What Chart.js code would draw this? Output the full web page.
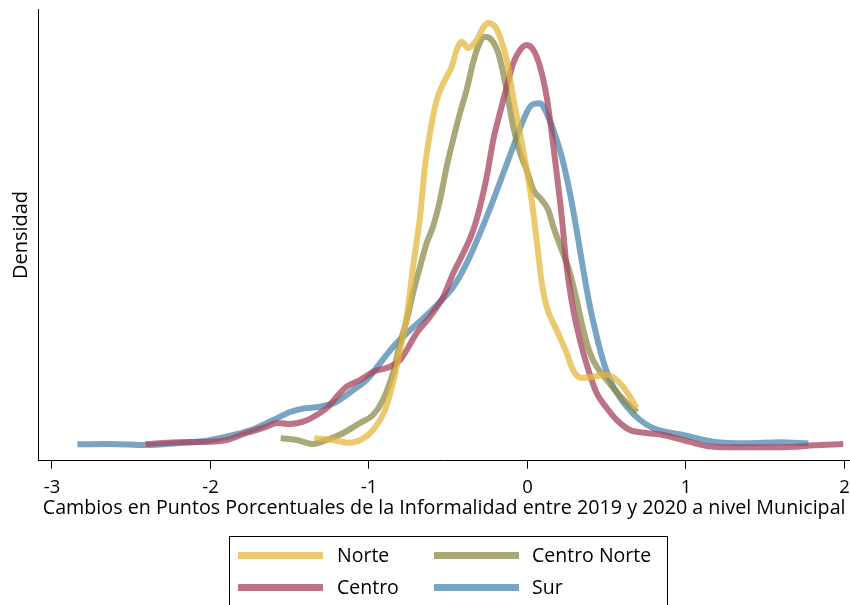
<!DOCTYPE html>
<html>
<head>
<meta charset="utf-8">
<script src="https://cdn.jsdelivr.net/npm/chart.js@4.4.1/dist/chart.umd.min.js"></script>
<style>
  html, body { margin: 0; padding: 0; background: #fff; }
  #wrap { width: 850px; height: 605px; }
</style>
</head>
<body>
<div id="wrap"><canvas id="densityChart" width="850" height="605"></canvas></div>
<script>
// Kernel density curves (y in arbitrary density units)
const xTicks = [-3, -2, -1, 0, 1, 2];

const norteX = [-1.345, -1.227, -1.132, -1.046, -0.975, -0.899, -0.849, -0.804, -0.762, -0.722, -0.678, -0.647, -0.615, -0.573, -0.521, -0.478, -0.447, -0.415, -0.375, -0.321, -0.281, -0.249, -0.205, -0.174, -0.131, -0.091, -0.047, -0.005, 0.026, 0.058, 0.090, 0.121, 0.184, 0.247, 0.287, 0.342, 0.413, 0.500, 0.563, 0.626, 0.689];
const norteY = [22.4, 20.7, 18, 21.4, 30.7, 50.7, 77.7, 110.7, 144, 194, 244, 294, 327.7, 360.7, 380.7, 394, 410.7, 419, 412.7, 420.7, 432.7, 437.7, 434, 424, 400.7, 364, 327.7, 290.7, 260.7, 220.7, 177.7, 154, 130.7, 107.7, 90.7, 82.7, 84, 85.7, 80.7, 69, 52.7];

const centroNorteX = [-1.557, -1.456, -1.351, -1.267, -1.162, -1.057, -0.975, -0.912, -0.849, -0.804, -0.762, -0.722, -0.678, -0.636, -0.596, -0.552, -0.510, -0.470, -0.426, -0.384, -0.344, -0.312, -0.268, -0.226, -0.184, -0.153, -0.121, -0.090, -0.047, -0.005, 0.037, 0.090, 0.131, 0.163, 0.216, 0.268, 0.310, 0.352, 0.394, 0.437, 0.500, 0.563, 0.626, 0.691];
const centroNorteY = [22.4, 20.7, 16.7, 20.7, 27.7, 37.7, 45.7, 60.7, 87.7, 117.7, 140.7, 167.7, 194, 217.7, 234, 260.7, 294, 320.7, 347.7, 370.7, 397.7, 414, 424, 420.7, 407.4, 387.4, 360.7, 334, 307.7, 290.7, 270.7, 260.7, 250.7, 234, 210.7, 187.7, 160.7, 130.7, 107.7, 94, 80.7, 68.7, 57.7, 48.7];

const centroX = [-2.409, -2.213, -2.003, -1.898, -1.772, -1.645, -1.582, -1.498, -1.415, -1.330, -1.257, -1.204, -1.141, -1.057, -0.973, -0.868, -0.804, -0.762, -0.699, -0.615, -0.531, -0.468, -0.405, -0.342, -0.300, -0.257, -0.216, -0.174, -0.131, -0.090, -0.047, -0.005, 0.037, 0.079, 0.121, 0.153, 0.184, 0.216, 0.247, 0.289, 0.331, 0.384, 0.437, 0.500, 0.563, 0.647, 0.752, 0.857, 0.983, 1.131, 1.278, 1.488, 1.698, 1.803, 1.992];
const centroY = [16.7, 18.4, 19, 20.7, 27.7, 34, 37.7, 36.7, 39, 45.7, 54, 64, 74, 80.7, 89, 94, 100.7, 110.7, 127.7, 144, 164, 187.7, 207.7, 230.7, 254, 284, 320.7, 347.7, 374, 397.4, 410.7, 415.7, 410.7, 394, 364, 327.7, 287.7, 244, 194, 150.7, 120.7, 90.7, 67.4, 52.7, 40.7, 30.7, 27.7, 25.7, 20.7, 14.7, 13.4, 13.4, 14, 15.4, 16.7];

const surX = [-2.840, -2.634, -2.403, -2.213, -2.024, -1.856, -1.730, -1.604, -1.498, -1.415, -1.309, -1.204, -1.099, -1.015, -0.931, -0.847, -0.762, -0.657, -0.552, -0.468, -0.384, -0.300, -0.216, -0.153, -0.090, -0.026, 0.026, 0.079, 0.121, 0.163, 0.216, 0.268, 0.310, 0.352, 0.394, 0.437, 0.489, 0.541, 0.626, 0.710, 0.794, 0.983, 1.172, 1.383, 1.593, 1.772];
const surY = [16.4, 16.7, 15.7, 17.4, 20, 25.7, 31.4, 40.7, 48.7, 52.2, 54, 59, 70.7, 80.7, 97.4, 114, 127.4, 142.4, 159, 174, 197.4, 227.4, 260.7, 287.4, 314, 340.7, 355.7, 357.4, 347.4, 330.7, 304, 267.4, 230.7, 190.7, 154, 124, 94, 74, 54, 40.7, 32.4, 25.7, 19, 17.4, 18.4, 17.4];

const seriesLabels = ['Norte', 'Centro', 'Centro Norte', 'Sur'];
const seriesColors = ['rgba(228,183,62,0.75)', 'rgba(166,68,92,0.75)', 'rgba(140,139,75,0.75)', 'rgba(75,135,175,0.75)'];
const legendColors = ['#ebc96e', '#bc7385', '#a9a878', '#78a5c3'];

const FONT = 'Open Sans';

const toPoints = (xs, ys) => xs.map((x, i) => ({ x: x, y: ys[i] }));
const seriesData = [toPoints(norteX, norteY), toPoints(centroX, centroY), toPoints(centroNorteX, centroNorteY), toPoints(surX, surY)];

// Legend box drawn by hand (two columns, boxed like the original)
const boxLegend = {
    id: 'boxLegend',
    afterDraw(chart) {
        const c = chart.ctx;
        c.save();
        c.strokeStyle = '#000';
        c.lineWidth = 1;
        c.strokeRect(229.5, 536.5, 438, 80);
        const cols = [[238, 323, 337], [434, 519, 532]];
        const rows = [555.5, 587.5];
        // order: Norte, Centro Norte / Centro, Sur
        const slots = [[0, 0, 0], [2, 1, 0], [1, 0, 1], [3, 1, 1]];
        c.font = '19.5px "' + FONT + '"';
        c.textBaseline = 'middle';
        c.fillStyle = '#000';
        slots.forEach(([idx, col, row]) => {
            const [x0, x1, tx] = cols[col];
            const y = rows[row];
            c.strokeStyle = legendColors[idx];
            c.lineWidth = 7;
            c.beginPath();
            c.moveTo(x0, y);
            c.lineTo(x1, y);
            c.stroke();
            c.fillText(chart.data.datasets[idx].label, tx, y + 1);
        });
        c.restore();
    }
};

new Chart(document.getElementById('densityChart'), {
    type: 'line',
    data: {
        datasets: seriesLabels.map((label, i) => ({
            label: label,
            data: seriesData[i],
            borderColor: seriesColors[i],
            borderWidth: 6,
            pointRadius: 0,
            fill: false,
            cubicInterpolationMode: 'monotone',
            borderCapStyle: 'butt',
            borderJoinStyle: 'round'
        }))
    },
    options: {
        responsive: false,
        animation: false,
        devicePixelRatio: 1,
        layout: { padding: { top: 9.3, right: 0, bottom: 85.2, left: 0 } },
        plugins: {
            legend: { display: false },
            tooltip: { enabled: false }
        },
        scales: {
            x: {
                type: 'linear',
                min: -3.0864,
                max: 2.0347,
                afterBuildTicks: (axis) => { axis.ticks = xTicks.map(v => ({ value: v })); },
                afterFit: (scale) => {
                    scale.height = 59.1;
                    scale.paddingLeft = 0;
                    scale.paddingRight = 0;
                },
                grid: { drawOnChartArea: false, drawTicks: true, tickLength: 8, color: '#000' },
                border: { display: true, color: '#000', width: 1 },
                ticks: { color: '#000', padding: 8, maxRotation: 0, font: { family: FONT, size: 18.5 } },
                title: {
                    display: true,
                    text: 'Cambios en Puntos Porcentuales de la Informalidad entre 2019 y 2020 a nivel Municipal',
                    color: '#000',
                    font: { family: FONT, size: 19.7 },
                    padding: { top: 0, bottom: 0 }
                }
            },
            y: {
                min: 0,
                max: 451.4,
                afterFit: (scale) => {
                    scale.width = 38.3;
                    scale.paddingTop = 0;
                    scale.paddingBottom = 0;
                },
                grid: { display: false },
                border: { display: true, color: '#000', width: 1 },
                ticks: { display: false },
                title: {
                    display: true,
                    text: 'Densidad',
                    color: '#000',
                    font: { family: FONT, size: 20 },
                    padding: { top: 9.7, bottom: 0 }
                }
            }
        }
    },
    plugins: [boxLegend]
});
</script>
</body>
</html>
